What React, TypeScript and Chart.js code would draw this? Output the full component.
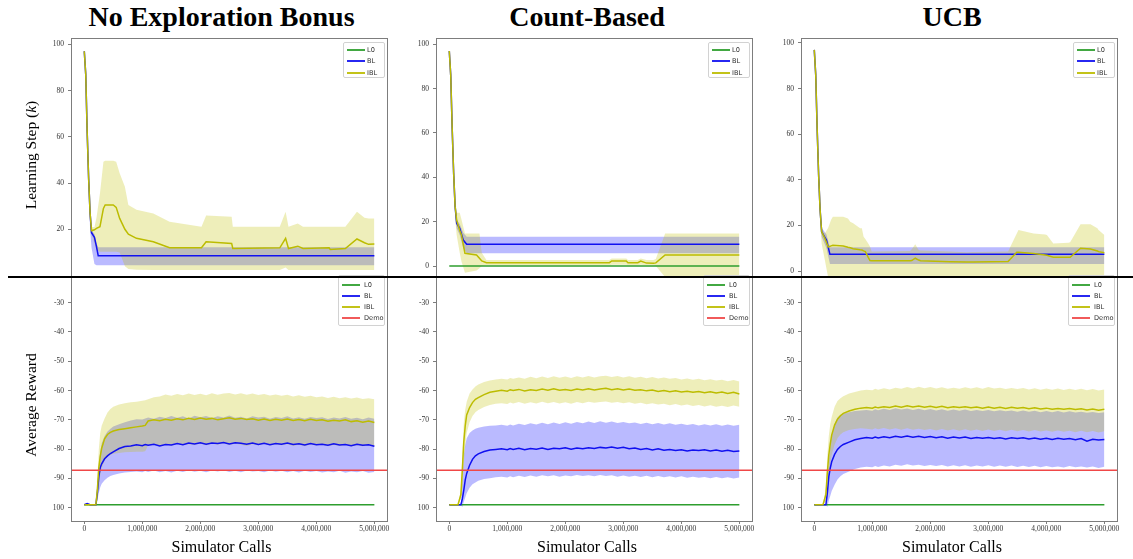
import React, { useEffect, useRef } from "react";
import { Chart, registerables } from "chart.js";

Chart.register(...registerables);

// ---------------------------------------------------------------------------
// Labels and ticks
// ---------------------------------------------------------------------------
const methodTitles = ["No Exploration Bonus", "Count-Based", "UCB"];
const stepTicksFull = [0, 20, 40, 60, 80, 100];
const stepTicksNoZero = [20, 40, 60, 80, 100];
const rewardTicks = [-100, -90, -80, -70, -60, -50, -40, -30];
const rewardTickLabels = ["100", "-90", "-80", "-70", "-60", "-50", "-40", "-30"];
const callTicks = [0, 1000000, 2000000, 3000000, 4000000, 5000000];
const callTickLabels = ["0", "1,000,000", "2,000,000", "3,000,000", "4,000,000", "5,000,000"];

// ---------------------------------------------------------------------------
// Learning step (k) vs simulator calls
// ---------------------------------------------------------------------------
// No Exploration Bonus
const nebStepBlCalls = [0, 25000, 50000, 75000, 100000, 125000, 175000, 210000, 240000, 5000000];
const nebStepBlMean = [97, 87, 62, 42, 27, 18.5, 16.5, 12.5, 8.6, 8.6];
const nebStepBlLow = [97, 86, 60, 38, 20, 12, 5, 4.5, 4.5, 4.5];
const nebStepBlHigh = [97, 88, 63, 44, 29, 19.5, 18, 14, 12.2, 12.2];

const nebStepIblCalls = [0, 25000, 50000, 75000, 100000, 125000, 175000, 210000, 270000, 330000, 360000, 500000, 550000, 610000, 700000, 760000, 900000, 1190000, 1470000, 2020000, 2100000, 2540000, 2560000, 3370000, 3470000, 3520000, 3680000, 3770000, 4220000, 4240000, 4500000, 4700000, 4830000, 4900000, 5000000];
const nebStepIblMean = [97, 87, 62, 42, 27, 19.4, 19.8, 20.4, 21.1, 29, 30.5, 30.5, 29.5, 24.7, 20, 17.9, 16.1, 14.6, 12.0, 12.0, 14.6, 13.9, 11.7, 12.0, 16.1, 11.7, 12.7, 11.7, 12.0, 11.3, 11.7, 15.8, 14.2, 13.5, 13.6];
const nebStepIblHigh = [97, 88, 64, 45, 30, 21, 21, 25, 35.5, 49.2, 49.6, 49.6, 49.2, 44.2, 38.4, 30.5, 28.5, 26.8, 23.3, 21.1, 26, 25.4, 21.1, 21.1, 27.6, 21.1, 22.5, 21.1, 21.1, 21.1, 21.1, 27.6, 25, 24.7, 24.7];
const nebStepIblLow = [97, 86, 60, 40, 24, 18, 14, 11, 10.3, 10.3, 10.3, 10.3, 10.3, 10, 4, 2.8, 2.5, 2.4, 2.4, 2.4, 2.4, 2.4, 2.4, 2.4, 3.5, 2.4, 2.4, 2.4, 2.4, 2.4, 2.4, 2.4, 2.4, 2.4, 2.4];

// Count-Based
const cbStepL0Calls = [0, 5000000];
const cbStepL0 = [0, 0];
const cbStepBlCalls = [0, 25000, 50000, 75000, 100000, 127000, 180000, 240000, 300000, 5000000];
const cbStepBlMean = [97, 86, 62, 42, 27, 19.3, 17, 11.7, 9.8, 9.8];
const cbStepBlLow = [97, 85, 60, 40, 24, 17, 14, 8, 5.7, 5.7];
const cbStepBlHigh = [97, 87, 64, 44, 30, 21, 19, 15, 13.2, 13.2];

const cbStepIblCalls = [0, 25000, 50000, 75000, 100000, 127000, 180000, 210000, 270000, 470000, 520000, 560000, 640000, 2760000, 2800000, 3050000, 3080000, 3250000, 3300000, 3400000, 3520000, 3560000, 3720000, 5000000];
const cbStepIblMean = [97, 86, 62, 42, 27, 20.7, 16, 14, 5.7, 5, 3.5, 2.3, 1.5, 1.5, 2.3, 2.3, 1.5, 1.5, 2.2, 1.3, 1.2, 1.4, 5, 5];
const cbStepIblHigh = [97, 88, 65, 46, 32, 24, 24, 21, 14.7, 14.7, 14.7, 6, 2.7, 2.7, 3.4, 3.4, 2.7, 2.7, 3.4, 2.7, 2.7, 3.2, 14.7, 14.7];
const cbStepIblLow = [97, 84, 58, 38, 22, 14, 6, 2, -3, -2, -1, 0, 0.3, 0.3, 0.6, 0.6, 0.3, 0.3, 0.6, 0.3, 0.3, 0, -5, -5];

// UCB
const ucbStepBlCalls = [0, 25000, 50000, 75000, 100000, 127000, 210000, 270000, 5000000];
const ucbStepBlMean = [97, 86, 62, 42, 27, 17.2, 13.6, 7.3, 7.3];
const ucbStepBlLow = [97, 85, 60, 40, 24, 15, 10, 3.1, 3.1];
const ucbStepBlHigh = [97, 87, 64, 44, 30, 19, 16, 10.4, 10.4];

const ucbStepIblCalls = [0, 25000, 50000, 75000, 100000, 127000, 180000, 240000, 290000, 320000, 440000, 500000, 580000, 620000, 670000, 790000, 820000, 850000, 880000, 930000, 960000, 990000, 1650000, 1680000, 1740000, 1800000, 1830000, 2340000, 2630000, 2740000, 3340000, 3490000, 3520000, 3780000, 3980000, 4010000, 4120000, 4380000, 4410000, 4590000, 4760000, 4880000, 4900000, 5000000];
const ucbStepIblMean = [97, 86, 62, 42, 27, 17.2, 14.5, 10.5, 11, 11.3, 11.1, 11, 10.4, 10.2, 9.8, 9.3, 9.2, 8.8, 8.5, 6, 4.6, 4.5, 4.5, 4.6, 5.6, 4.8, 4.5, 4.1, 4.0, 3.9, 4.2, 8.2, 8.2, 7.7, 7.0, 6.9, 6.0, 6.0, 6.0, 10.0, 9.6, 8.8, 8.5, 8.0];
const ucbStepIblHigh = [97, 88, 64, 45, 30, 18.5, 16.5, 19, 22.5, 23.8, 23.8, 23.8, 23, 21.6, 20.9, 18.7, 18.7, 15, 14, 12.1, 10.7, 8.5, 8.8, 9.5, 11.7, 9.2, 9, 8.5, 8.2, 8.3, 8.5, 16.5, 18, 16.5, 16, 15.8, 12.1, 12.4, 12.6, 20.5, 20.5, 18.7, 18, 15.8];
const ucbStepIblLow = [97, 84, 58, 38, 22, 12, 5, -3, -3, -3, -3, -3, -3, -3, -3, -3, -3, -3, -3, -3, -3, -3, -3, -3, -3, -3, -3, -3, -3, -3, -3, -3, -3, -3, -3, -3, -3, -3, -3, -3, -3, -3, -3, -3];

// ---------------------------------------------------------------------------
// Average reward vs simulator calls (calls in thousands)
// ---------------------------------------------------------------------------
const rewardCallsK = [0, 50, 100, 150, 200, 225, 250, 275, 300, 350, 400, 450, 500, 600, 700, 800, 900, 1000, 1050,
  1100, 1200, 1300, 1400, 1500, 1600, 1700, 1800, 1900, 2000,
  2100, 2200, 2300, 2400, 2500, 2600, 2700, 2800, 2900, 3000,
  3100, 3200, 3300, 3400, 3500, 3600, 3700, 3800, 3900, 4000,
  4100, 4200, 4300, 4400, 4500, 4600, 4700, 4800, 4900, 5000];

const l0RewardCalls = [0, 5000000];
const l0Reward = [-99, -99];
const demoReward = -87.2;

// No Exploration Bonus
const nebBlMean = [-99, -98.6, -99, -99, -99, -95, -89.5, -86.3, -85, -83.3, -82.3, -81.5, -80.9, -79.8, -79.1, -78.9, -78.5, -78.8, -78.4,
  -78.7, -78.3, -78.9, -78.4, -78.6, -78.1, -78.5, -77.9, -78.2, -77.8,
  -78.3, -77.9, -78.1, -77.7, -78.2, -77.8, -78.0, -78.3, -77.9, -78.4,
  -78.0, -78.5, -78.1, -78.3, -77.9, -78.4, -78.2, -78.6, -78.1, -78.5,
  -78.3, -78.7, -78.2, -78.6, -78.4, -78.8, -78.3, -78.7, -78.5, -79.0];
const nebBlHigh = [-99, -98.4, -99, -99, -99, -94, -86, -81, -78, -75.5, -74, -73, -72.3, -71.5, -70.8, -70.2, -69.8, -69.9, -69.5,
  -69.2, -69.6, -68.9, -69.4, -68.7, -69.3, -68.8, -69.5, -68.6, -69.1,
  -68.7, -69.4, -68.8, -69.2, -68.5, -69.3, -68.9, -69.5, -68.8, -69.2,
  -68.9, -69.6, -69.0, -69.4, -68.8, -69.5, -69.1, -69.6, -69.0, -69.4,
  -69.1, -69.7, -69.2, -69.5, -69.0, -69.6, -69.3, -69.8, -69.2, -69.6];
const nebBlLow = [-99, -99.2, -99, -99, -99, -97.5, -95, -93, -91.8, -90.6, -89.8, -89.2, -88.8, -88.3, -88, -87.8, -87.6, -87.9, -87.5,
  -87.8, -87.3, -87.9, -87.5, -88.0, -87.4, -87.8, -87.2, -87.7, -87.4,
  -87.9, -87.3, -87.6, -87.2, -87.8, -87.4, -87.9, -87.3, -87.6, -87.5,
  -87.9, -87.3, -87.7, -87.4, -87.9, -87.5, -88.0, -87.4, -87.8, -87.5,
  -88.0, -87.6, -87.9, -87.4, -88.1, -87.6, -87.9, -87.5, -88.1, -87.8];
const nebIblMean = [-99, -99, -99, -99, -99, -94, -86.5, -82.5, -79.7, -76.5, -75, -74.3, -73.8, -73.3, -73.0, -72.7, -72.4, -72.1, -71.9,
  -70.4, -70.0, -70.3, -69.8, -70.1, -69.6, -70.0, -69.5, -69.9, -69.4,
  -69.8, -69.5, -70.0, -69.6, -69.3, -69.8, -69.5, -69.9, -69.6, -70.1,
  -69.7, -70.2, -69.8, -70.1, -69.7, -70.2, -69.9, -70.3, -69.8, -70.2,
  -70.0, -70.5, -70.1, -70.4, -70.0, -70.6, -70.3, -70.8, -70.4, -70.9];
const nebIblHigh = [-99, -99, -99, -99, -99, -90, -80, -74.5, -72, -69.5, -67.5, -66.3, -65.5, -64.8, -64.3, -64, -63.8, -63.5, -63.3,
  -63.0, -62.3, -62.0, -61.3, -61.8, -61.2, -61.6, -61.0, -61.5, -61.1,
  -61.6, -60.9, -61.4, -61.0, -60.8, -61.3, -60.9, -61.4, -61.0, -61.5,
  -61.2, -61.7, -61.3, -61.8, -61.4, -62.0, -61.6, -62.1, -61.8, -62.3,
  -62.0, -62.5, -62.1, -62.6, -62.3, -62.7, -62.4, -62.9, -62.6, -63.0];
const nebIblLow = [-99, -99, -99, -99, -99, -98, -93, -89, -86.5, -84, -82.6, -82, -81.6, -81.3, -81.1, -81, -80.9, -80.9, -80.7,
  -78.8, -78.3, -78.9, -78.4, -78.8, -78.2, -78.7, -78.3, -78.6, -78.1,
  -78.7, -78.2, -78.5, -78.0, -78.6, -78.2, -78.5, -78.9, -78.3, -78.7,
  -78.2, -78.8, -78.4, -78.7, -78.3, -78.9, -78.5, -79.0, -78.4, -78.8,
  -78.5, -79.0, -78.6, -78.9, -78.5, -79.1, -78.7, -79.0, -78.6, -79.1];

// Count-Based
const cbBlMean = [-99, -99, -99, -99, -99, -97, -94, -90.5, -88.3, -85.5, -83.5, -82.3, -81.6, -80.8, -80.3, -80.1, -79.9, -80.2, -79.8,
  -80.1, -79.7, -80.2, -79.8, -80.0, -79.6, -80.1, -79.7, -79.9, -79.5,
  -80.0, -79.6, -79.9, -79.5, -79.8, -79.4, -79.6, -79.3, -79.7, -79.4,
  -79.9, -79.6, -80.1, -79.8, -80.3, -79.9, -80.4, -80.1, -80.5, -80.2,
  -80.6, -80.3, -80.5, -80.2, -80.6, -80.3, -80.7, -80.4, -80.8, -80.6];
const cbBlHigh = [-99, -99, -99, -99, -99, -90, -82, -78.5, -76.3, -74.5, -73.6, -73.0, -72.7, -72.3, -72.0, -71.9, -71.7, -72.0, -71.6,
  -71.9, -71.3, -71.8, -71.2, -71.6, -71.0, -71.5, -70.9, -71.4, -70.8,
  -71.3, -70.7, -71.2, -70.6, -71.1, -70.5, -71.0, -70.6, -71.1, -70.7,
  -71.2, -70.9, -71.4, -71.0, -71.5, -71.1, -71.6, -71.2, -71.7, -71.3,
  -71.8, -71.4, -71.9, -71.5, -71.9, -71.5, -72.0, -71.6, -72.0, -71.7];
const cbBlLow = [-99, -99, -99, -99, -99, -99.8, -98, -96.5, -95.1, -93.2, -92.0, -91.4, -90.8, -90.2, -89.9, -89.6, -89.4, -89.7, -89.3,
  -89.6, -89.1, -89.5, -89.0, -89.4, -88.9, -89.3, -88.9, -89.4, -89.0,
  -89.3, -88.8, -89.2, -88.9, -89.3, -88.8, -89.2, -88.9, -89.4, -89.0,
  -89.4, -89.1, -89.5, -89.1, -89.6, -89.2, -89.6, -89.3, -89.7, -89.3,
  -89.8, -89.4, -89.8, -89.5, -89.9, -89.5, -89.9, -89.6, -90.0, -89.7];
const cbIblMean = [-99, -99, -99, -99, -95.5, -87, -77.5, -72, -68.3, -65.8, -64.1, -63.0, -62.4, -61.4, -60.6, -60.2, -59.9, -60.2, -59.7,
  -60.0, -59.6, -60.1, -59.7, -60.0, -59.5, -59.9, -59.4, -59.9, -59.6,
  -60.0, -59.5, -59.8, -59.4, -59.8, -59.5, -59.2, -59.7, -59.4, -59.8,
  -59.5, -59.9, -59.7, -60.1, -59.8, -60.3, -60.0, -60.4, -60.1, -60.5,
  -60.2, -60.6, -60.3, -60.7, -60.4, -60.8, -60.5, -61.0, -60.6, -61.2];
const cbIblHigh = [-99, -99, -99, -99, -94, -82, -71, -66.5, -63.8, -61, -59.6, -58.6, -57.9, -57.1, -56.6, -56.2, -56.0, -56.2, -55.7,
  -56.0, -55.5, -56.0, -55.3, -55.8, -55.2, -55.7, -55.1, -55.6, -55.2,
  -55.7, -55.1, -55.5, -55.0, -55.5, -55.1, -54.9, -55.4, -55.0, -55.5,
  -55.1, -55.6, -55.3, -55.8, -55.4, -55.9, -55.5, -56.0, -55.7, -56.2,
  -55.9, -56.3, -56.0, -56.5, -56.1, -56.6, -56.3, -56.8, -56.4, -56.9];
const cbIblLow = [-99, -99, -99, -99, -97, -93, -85, -79, -74.5, -70.8, -68.7, -67.4, -66.6, -65.6, -64.9, -64.5, -64.3, -64.6, -64.1,
  -64.4, -63.9, -64.5, -64.0, -64.4, -63.8, -64.3, -63.9, -64.4, -64.0,
  -64.5, -63.9, -64.3, -63.8, -64.2, -63.9, -63.7, -64.2, -63.9, -64.3,
  -64.0, -64.5, -64.2, -64.7, -64.3, -64.8, -64.5, -65.0, -64.6, -65.1,
  -64.8, -65.3, -64.9, -65.4, -65.0, -65.5, -65.2, -65.6, -65.1, -65.5];

// UCB
const ucbBlMean = [-99, -99, -99, -99, -99, -95, -89.5, -86.5, -84.3, -81.8, -80.1, -79.1, -78.4, -77.6, -76.8, -76.4, -76.0, -76.3, -75.9,
  -76.2, -75.8, -76.1, -75.6, -75.9, -75.5, -75.9, -75.6, -76.0, -75.7,
  -76.1, -75.8, -76.3, -75.9, -76.2, -75.9, -76.4, -76.0, -76.3, -76.0,
  -76.4, -76.1, -76.5, -76.1, -76.4, -76.1, -76.5, -76.2, -76.6, -76.3,
  -76.7, -76.3, -76.6, -76.4, -76.8, -76.4, -77.3, -76.6, -76.9, -76.7];
const ucbBlHigh = [-99, -99, -99, -99, -99, -92, -84, -79, -75.5, -71.5, -69.2, -68.3, -67.8, -67.4, -67.0, -66.8, -66.6, -66.9, -66.4,
  -66.7, -66.2, -66.6, -66.0, -66.5, -66.1, -66.6, -66.2, -66.7, -66.3,
  -66.8, -66.4, -66.9, -66.5, -66.9, -66.5, -67.0, -66.6, -67.0, -66.6,
  -67.1, -66.7, -67.1, -66.8, -67.2, -66.8, -67.2, -66.9, -67.4, -67.0,
  -67.4, -67.0, -67.5, -67.1, -67.5, -67.2, -67.6, -67.3, -67.7, -67.4];
const ucbBlLow = [-99, -99, -99, -99, -99, -99.8, -97.5, -96, -94.3, -92.2, -90.4, -89.3, -88.5, -87.6, -86.8, -86.3, -86.0, -86.2, -85.8,
  -86.1, -85.6, -85.9, -85.3, -85.7, -85.2, -85.6, -85.3, -85.8, -85.4,
  -85.8, -85.4, -85.9, -85.5, -85.9, -85.5, -86.0, -85.6, -85.9, -85.5,
  -86.0, -85.6, -86.0, -85.6, -86.1, -85.7, -86.1, -85.7, -86.2, -85.8,
  -86.2, -85.9, -86.3, -85.8, -86.2, -85.9, -86.3, -85.9, -86.4, -86.0];
const ucbIblMean = [-99, -99, -99, -99, -95.5, -88, -82, -78.3, -75.2, -71.8, -69.8, -68.6, -67.8, -67.0, -66.4, -66.0, -65.8, -66.0, -65.6,
  -65.9, -65.5, -65.8, -65.3, -65.7, -65.2, -65.6, -65.3, -65.7, -65.4,
  -65.8, -65.4, -65.9, -65.5, -65.8, -65.5, -65.9, -65.6, -66.0, -65.6,
  -66.0, -65.7, -66.1, -65.7, -66.0, -65.8, -66.2, -65.9, -66.3, -66.0,
  -66.4, -66.1, -66.4, -66.1, -66.5, -66.2, -66.6, -66.3, -66.7, -66.4];
const ucbIblHigh = [-99, -99, -99, -99, -93, -82, -75.5, -71.5, -69, -65.5, -63.6, -62.6, -61.9, -61.0, -60.5, -60.0, -59.7, -59.9, -59.4,
  -59.7, -59.2, -59.6, -59.0, -59.4, -58.8, -59.3, -58.7, -59.2, -58.8,
  -59.3, -58.9, -59.4, -59.0, -59.4, -58.9, -59.3, -58.9, -59.4, -58.8,
  -59.3, -59.0, -59.5, -59.1, -59.5, -59.1, -59.6, -59.2, -59.7, -59.3,
  -59.7, -59.3, -59.8, -59.4, -59.8, -59.4, -59.9, -59.5, -60.0, -59.6];
const ucbIblLow = [-99, -99, -99, -99, -98, -94, -89, -85, -82, -78.5, -76.3, -75.0, -74.2, -73.5, -73.1, -72.9, -73.0, -73.3, -72.9,
  -73.2, -72.8, -73.3, -72.9, -73.4, -72.9, -73.4, -73.0, -73.5, -73.1,
  -73.6, -73.1, -73.6, -73.2, -73.7, -73.2, -73.7, -73.3, -73.8, -73.3,
  -73.8, -73.4, -73.9, -73.4, -73.9, -73.5, -74.0, -73.5, -74.0, -73.6,
  -74.1, -73.6, -74.1, -73.7, -74.2, -73.7, -74.2, -73.8, -74.3, -73.9];

// ---------------------------------------------------------------------------
// Styling
// ---------------------------------------------------------------------------
const COLOR_L0 = "#2e9e2e";
const COLOR_BL = "#1010f0";
const COLOR_IBL = "#bcbc00";
const COLOR_DEMO = "#f04848";
const FILL_BL = "rgba(0, 0, 255, 0.27)";
const FILL_IBL = "rgba(191, 191, 0, 0.27)";
const AXIS_COLOR = "#7d7d7d";
const TICK_COLOR = "#333333";
const SERIF = "'Liberation Serif', 'Times New Roman', serif";
const SANS = "'DejaVu Sans', 'Liberation Sans', sans-serif";
const TICK_FONT = { family: SERIF, size: 7.5 };

const X_MIN = -229000;
const X_MAX = 5235000;
const PAD = 12;
const YW = 32;
const XH = 22;

type Series = { calls: number[]; mean: number[]; low: number[]; high: number[] };
type PanelSpec = {
  left: number;
  right: number;
  top: number;
  bottom: number;
  yMin: number;
  yMax: number;
  yTicks: number[];
  yLabels: string[];
  xAxis: boolean;
  bl: Series;
  ibl: Series;
  l0?: { calls: number[]; values: number[] };
  demo?: number;
};

const thousands = (arr: number[]) => arr.map((v) => v * 1000);
const rewardCalls = thousands(rewardCallsK);

const COLS = [
  { left: 71, right: 388 },
  { left: 436, right: 753 },
  { left: 801, right: 1118 },
];
const TOP_ROW = { top: 38, bottom: 277 };
const BOTTOM_ROW = { top: 277, bottom: 522 };

const stepPanels: PanelSpec[] = [
  {
    ...COLS[0], ...TOP_ROW, yMin: -0.63, yMax: 102.72,
    yTicks: stepTicksNoZero, yLabels: stepTicksNoZero.map(String), xAxis: false,
    bl: { calls: nebStepBlCalls, mean: nebStepBlMean, low: nebStepBlLow, high: nebStepBlHigh },
    ibl: { calls: nebStepIblCalls, mean: nebStepIblMean, low: nebStepIblLow, high: nebStepIblHigh },
  },
  {
    ...COLS[1], ...TOP_ROW, yMin: -4.96, yMax: 102.84,
    yTicks: stepTicksFull, yLabels: stepTicksFull.map(String), xAxis: false,
    bl: { calls: cbStepBlCalls, mean: cbStepBlMean, low: cbStepBlLow, high: cbStepBlHigh },
    ibl: { calls: cbStepIblCalls, mean: cbStepIblMean, low: cbStepIblLow, high: cbStepIblHigh },
    l0: { calls: cbStepL0Calls, values: cbStepL0 },
  },
  {
    ...COLS[2], ...TOP_ROW, yMin: -2.63, yMax: 102.19,
    yTicks: stepTicksFull, yLabels: stepTicksFull.map(String), xAxis: false,
    bl: { calls: ucbStepBlCalls, mean: ucbStepBlMean, low: ucbStepBlLow, high: ucbStepBlHigh },
    ibl: { calls: ucbStepIblCalls, mean: ucbStepIblMean, low: ucbStepIblLow, high: ucbStepIblHigh },
  },
];

const rewardPanels: PanelSpec[] = [
  {
    ...COLS[0], ...BOTTOM_ROW, yMin: -104.88, yMax: -21.22,
    yTicks: rewardTicks, yLabels: rewardTickLabels, xAxis: true,
    bl: { calls: rewardCalls, mean: nebBlMean, low: nebBlLow, high: nebBlHigh },
    ibl: { calls: rewardCalls, mean: nebIblMean, low: nebIblLow, high: nebIblHigh },
    l0: { calls: l0RewardCalls, values: l0Reward },
    demo: demoReward,
  },
  {
    ...COLS[1], ...BOTTOM_ROW, yMin: -104.88, yMax: -21.22,
    yTicks: rewardTicks, yLabels: rewardTickLabels, xAxis: true,
    bl: { calls: rewardCalls, mean: cbBlMean, low: cbBlLow, high: cbBlHigh },
    ibl: { calls: rewardCalls, mean: cbIblMean, low: cbIblLow, high: cbIblHigh },
    l0: { calls: l0RewardCalls, values: l0Reward },
    demo: demoReward,
  },
  {
    ...COLS[2], ...BOTTOM_ROW, yMin: -104.88, yMax: -21.22,
    yTicks: rewardTicks, yLabels: rewardTickLabels, xAxis: true,
    bl: { calls: rewardCalls, mean: ucbBlMean, low: ucbBlLow, high: ucbBlHigh },
    ibl: { calls: rewardCalls, mean: ucbIblMean, low: ucbIblLow, high: ucbIblHigh },
    l0: { calls: l0RewardCalls, values: l0Reward },
    demo: demoReward,
  },
];

const toPoints = (calls: number[], values: number[]) => calls.map((c, i) => ({ x: c, y: values[i] }));

function edge(label: string, data: any[], order: number, fill: any, bg?: string) {
  return {
    label,
    data,
    borderWidth: 0,
    borderColor: "rgba(0,0,0,0)",
    backgroundColor: bg || "rgba(0,0,0,0)",
    pointRadius: 0,
    fill,
    order,
  };
}

function line(label: string, data: any[], color: string, order: number) {
  return {
    label,
    data,
    borderColor: color,
    backgroundColor: color,
    borderWidth: 1.5,
    pointRadius: 0,
    tension: 0,
    fill: false,
    order,
  };
}

function buildDatasets(p: PanelSpec) {
  const ds: any[] = [];
  // 0/1: BL spread, 2/3: IBL spread (filled between low and high edges)
  ds.push(edge("BL low", toPoints(p.bl.calls, p.bl.low), 50, false));
  ds.push(edge("BL high", toPoints(p.bl.calls, p.bl.high), 40, 0, FILL_BL));
  ds.push(edge("IBL low", toPoints(p.ibl.calls, p.ibl.low), 50, false));
  ds.push(edge("IBL high", toPoints(p.ibl.calls, p.ibl.high), 39, 2, FILL_IBL));
  if (p.l0) ds.push(line("L0", toPoints(p.l0.calls, p.l0.values), COLOR_L0, 4));
  ds.push(line("BL", toPoints(p.bl.calls, p.bl.mean), COLOR_BL, 3));
  ds.push(line("IBL", toPoints(p.ibl.calls, p.ibl.mean), COLOR_IBL, 2));
  if (p.demo !== undefined) {
    ds.push(line("Demo", [{ x: X_MIN, y: p.demo }, { x: X_MAX, y: p.demo }], COLOR_DEMO, 1));
  }
  return ds;
}

// Draws the rectangular frame around the plotting area
const framePlugin = {
  id: "frame",
  afterDraw(chart: any) {
    const { ctx, chartArea: a } = chart;
    ctx.save();
    ctx.strokeStyle = AXIS_COLOR;
    ctx.lineWidth = 1;
    ctx.strokeRect(Math.round(a.left) + 0.5, Math.round(a.top) + 0.5, Math.round(a.right - a.left) - 1, Math.round(a.bottom - a.top) - 1);
    ctx.restore();
  },
};

function ChartPanel({ spec }: { spec: PanelSpec }) {
  const canvasRef = useRef<HTMLCanvasElement | null>(null);
  const w = spec.right - spec.left + YW + 2 * PAD;
  const h = spec.bottom - spec.top + 2 * PAD + (spec.xAxis ? XH : 0);

  useEffect(() => {
    const canvas = canvasRef.current;
    if (!canvas) return;
    const chart = new Chart(canvas, {
      type: "line",
      data: { datasets: buildDatasets(spec) },
      options: {
        animation: false,
        responsive: false,
        devicePixelRatio: 1,
        events: [],
        layout: { padding: PAD },
        plugins: { legend: { display: false }, tooltip: { enabled: false }, title: { display: false } },
        scales: {
          x: {
            type: "linear",
            min: X_MIN,
            max: X_MAX,
            display: spec.xAxis,
            afterBuildTicks: (s: any) => {
              s.ticks = callTicks.map((v) => ({ value: v }));
            },
            afterFit: (s: any) => {
              s.height = spec.xAxis ? XH : 0;
            },
            grid: { display: true, drawOnChartArea: false, drawTicks: true, tickLength: 2, color: AXIS_COLOR, tickColor: AXIS_COLOR },
            border: { display: false },
            ticks: {
              autoSkip: false,
              maxRotation: 0,
              padding: 1,
              color: TICK_COLOR,
              font: TICK_FONT,
              callback: (_v: any, i: number) => callTickLabels[i],
            },
          },
          y: {
            type: "linear",
            min: spec.yMin,
            max: spec.yMax,
            afterBuildTicks: (s: any) => {
              s.ticks = spec.yTicks.map((v) => ({ value: v }));
            },
            afterFit: (s: any) => {
              s.width = YW;
            },
            grid: { display: true, drawOnChartArea: false, drawTicks: true, tickLength: 3, color: AXIS_COLOR, tickColor: AXIS_COLOR },
            border: { display: false },
            ticks: {
              autoSkip: false,
              padding: 4,
              color: TICK_COLOR,
              font: TICK_FONT,
              callback: (_v: any, i: number) => spec.yLabels[i],
            },
          },
        },
      } as any,
      plugins: [framePlugin],
    });
    return () => chart.destroy();
  }, [spec]);

  return (
    <canvas
      ref={canvasRef}
      width={w}
      height={h}
      style={{ position: "absolute", left: spec.left - YW - PAD, top: spec.top - PAD, width: w, height: h }}
    />
  );
}

type LegendItem = { label: string; color: string };
const stepLegend: LegendItem[] = [
  { label: "L0", color: COLOR_L0 },
  { label: "BL", color: COLOR_BL },
  { label: "IBL", color: COLOR_IBL },
];
const rewardLegend: LegendItem[] = [...stepLegend, { label: "Demo", color: COLOR_DEMO }];

function LegendBox({ right, top, width, height, items, firstRow, rowStep, textLeft }: any) {
  return (
    <div
      style={{
        position: "absolute",
        left: Math.round(right - width),
        top,
        width,
        height,
        boxSizing: "border-box",
        border: "1px solid #d2d2d2",
        borderRadius: 2,
        background: "rgba(255,255,255,0.85)",
      }}
    >
      {items.map((it: LegendItem, i: number) => (
        <div
          key={it.label}
          style={{ position: "absolute", left: 0, top: Math.round(firstRow + i * rowStep - 5), height: 10, width: "100%" }}
        >
          <div style={{ position: "absolute", left: 3, top: 4, width: 18, height: 2, background: it.color, opacity: 0.9 }} />
          <div
            style={{
              position: "absolute",
              left: textLeft,
              top: 0,
              lineHeight: "10px",
              fontSize: 6.6,
              fontFamily: SANS,
              color: "#333",
              whiteSpace: "nowrap",
            }}
          >
            {it.label}
          </div>
        </div>
      ))}
    </div>
  );
}

const titleCenters = [221.5, 587, 952];

export default function App() {
  return (
    <div style={{ position: "fixed", left: 0, top: 0, width: 1133, height: 559, background: "#fff", overflow: "hidden" }}>
      {methodTitles.map((t, i) => (
        <div
          key={t}
          style={{
            position: "absolute",
            left: titleCenters[i] - 200,
            width: 400,
            top: 1,
            textAlign: "center",
            fontFamily: SERIF,
            fontWeight: "bold",
            fontSize: 28,
            lineHeight: "32px",
            color: "#000",
            whiteSpace: "nowrap",
          }}
        >
          {t}
        </div>
      ))}

      {stepPanels.map((p, i) => (
        <ChartPanel key={"s" + i} spec={p} />
      ))}
      {rewardPanels.map((p, i) => (
        <ChartPanel key={"r" + i} spec={p} />
      ))}

      {COLS.map((c, i) => (
        <LegendBox key={"ls" + i} right={c.right - 3} top={42} width={42} height={36} items={stepLegend} firstRow={7} rowStep={11.3} textLeft={23} />
      ))}
      {COLS.map((c, i) => (
        <LegendBox key={"lr" + i} right={c.right - 3} top={275} width={47} height={51} items={rewardLegend} firstRow={9.3} rowStep={10.8} textLeft={25} />
      ))}

      <div
        style={{
          position: "absolute",
          left: 31,
          top: 155,
          transform: "translate(-50%, -50%) rotate(-90deg)",
          fontFamily: SERIF,
          fontSize: 15.5,
          lineHeight: "18px",
          whiteSpace: "nowrap",
          color: "#000",
        }}
      >
        Learning Step (<i>k</i>)
      </div>
      <div
        style={{
          position: "absolute",
          left: 31,
          top: 405,
          transform: "translate(-50%, -50%) rotate(-90deg)",
          fontFamily: SERIF,
          fontSize: 15.5,
          lineHeight: "18px",
          whiteSpace: "nowrap",
          color: "#000",
        }}
      >
        Average Reward
      </div>

      {titleCenters.map((cx, i) => (
        <div
          key={"xt" + i}
          style={{
            position: "absolute",
            left: cx - 100,
            width: 200,
            top: 539,
            textAlign: "center",
            fontFamily: SERIF,
            fontSize: 16,
            lineHeight: "16px",
            color: "#000",
            whiteSpace: "nowrap",
          }}
        >
          Simulator Calls
        </div>
      ))}

      <div style={{ position: "absolute", left: 8, top: 276, width: 1125, height: 2, background: "#000" }} />
    </div>
  );
}
